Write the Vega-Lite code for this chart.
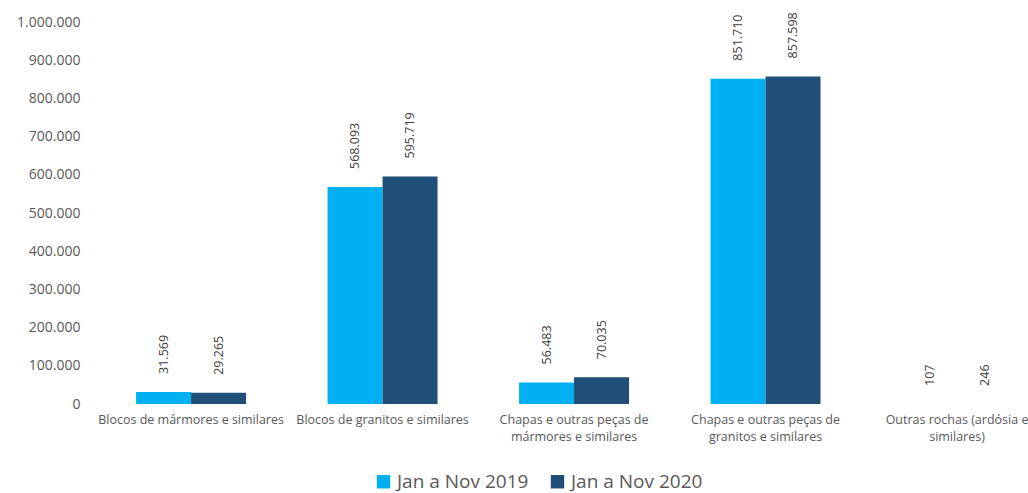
{
  "$schema": "https://vega.github.io/schema/vega-lite/v6.json",
  "autosize": {"type": "none"},
  "padding": {"left": 95, "top": 22, "right": 0, "bottom": 89},
  "width": 933,
  "height": 382,
  "config": {
    "locale": {"number": {"decimal": ",", "thousands": ".", "grouping": [3], "currency": ["R$", ""]}},
    "view": {"stroke": null},
    "font": "Open Sans"
  },
  "data": {
    "values": [
      {"categoria": "Blocos de mármores e similares", "serie": "Jan a Nov 2019", "valor": 31569},
      {"categoria": "Blocos de mármores e similares", "serie": "Jan a Nov 2020", "valor": 29265},
      {"categoria": "Blocos de granitos e similares", "serie": "Jan a Nov 2019", "valor": 568093},
      {"categoria": "Blocos de granitos e similares", "serie": "Jan a Nov 2020", "valor": 595719},
      {"categoria": "Chapas e outras peças de|mármores e similares", "serie": "Jan a Nov 2019", "valor": 56483},
      {"categoria": "Chapas e outras peças de|mármores e similares", "serie": "Jan a Nov 2020", "valor": 70035},
      {"categoria": "Chapas e outras peças de|granitos e similares", "serie": "Jan a Nov 2019", "valor": 851710},
      {"categoria": "Chapas e outras peças de|granitos e similares", "serie": "Jan a Nov 2020", "valor": 857598},
      {"categoria": "Outras rochas (ardósia e|similares)", "serie": "Jan a Nov 2019", "valor": 107},
      {"categoria": "Outras rochas (ardósia e|similares)", "serie": "Jan a Nov 2020", "valor": 246}
    ]
  },
  "encoding": {
    "x": {
      "field": "categoria", "type": "nominal", "sort": null,
      "scale": {"paddingInner": 0.4256, "paddingOuter": 0.149, "align": 0.72},
      "axis": {
        "title": null, "labelAngle": 0, "domain": false, "ticks": false,
        "labelExpr": "split(datum.label, '|')",
        "labelFontSize": 12.5, "labelColor": "#595959", "labelPadding": 9,
        "labelLineHeight": 17, "labelBaseline": "top", "labelFont": "Open Sans",
        "labelOverlap": false, "labelBound": false, "labelFlush": false, "labelLimit": 400
      }
    },
    "xOffset": {"field": "serie", "type": "nominal", "scale": {"paddingInner": 0}},
    "y": {
      "field": "valor", "type": "quantitative",
      "scale": {"domain": [0, 1000000], "nice": false},
      "axis": {
        "title": null, "format": ",d", "values": [0,100000,200000,300000,400000,500000,600000,700000,800000,900000,1000000],
        "grid": false, "domain": false, "ticks": false, "labelPadding": 15, "labelOverlap": false,
        "labelFontSize": 14, "labelColor": "#595959", "labelFont": "Open Sans"
      }
    }
  },
  "layer": [
    {
      "mark": {"type": "bar"},
      "encoding": {
        "color": {
          "field": "serie", "type": "nominal",
          "scale": {"domain": ["Jan a Nov 2019", "Jan a Nov 2020"], "range": ["#00B0F0", "#1F4E79"]},
          "legend": {
            "title": null, "orient": "none", "direction": "horizontal",
            "legendX": 279, "legendY": 450,
            "symbolType": "square", "symbolSize": 180, "symbolStrokeWidth": 0,
            "labelFontSize": 19, "labelColor": "#595959", "labelFont": "Open Sans",
            "columnPadding": 19, "labelOffset": 4, "labelLimit": 300
          }
        }
      }
    },
    {
      "mark": {"type": "text", "angle": 270, "align": "left", "baseline": "middle", "dx": 18, "fontSize": 12.5, "color": "#404040", "font": "Open Sans"},
      "encoding": {
        "text": {"field": "valor", "type": "quantitative", "format": ",d"}
      }
    }
  ]
}
